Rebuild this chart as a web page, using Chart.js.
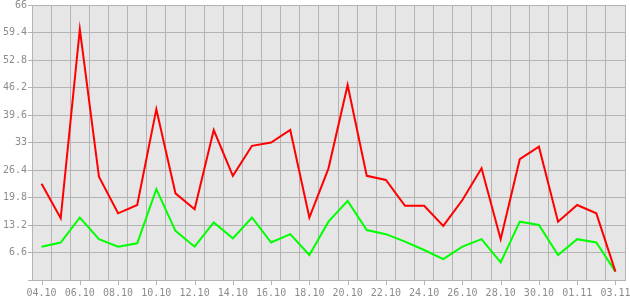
<!DOCTYPE html>
<html>
<head>
<meta charset="utf-8">
<script src="https://cdn.jsdelivr.net/npm/chart.js@4/dist/chart.umd.min.js"></script>
<style>
  body { margin: 0; background: #fff; }
</style>
</head>
<body>
<canvas id="myChart" width="630" height="300"></canvas>
<script>
// dates, one per day
const days = ['04.10', '05.10', '06.10', '07.10', '08.10', '09.10', '10.10', '11.10', '12.10', '13.10',
  '14.10', '15.10', '16.10', '17.10', '18.10', '19.10', '20.10', '21.10', '22.10', '23.10',
  '24.10', '25.10', '26.10', '27.10', '28.10', '29.10', '30.10', '31.10', '01.11', '02.11', '03.11'];

const redValues = [23.1, 14.8, 60.2, 24.8, 16.0, 18.0, 41.0, 20.8, 17.0, 36.0,
  25.0, 32.2, 33.0, 36.0, 15.0, 26.8, 46.8, 25.0, 24.0, 17.8,
  17.8, 13.0, 19.2, 26.8, 9.8, 29.0, 32.0, 14.0, 18.0, 16.0, 2.0];

const greenValues = [8.0, 9.0, 15.0, 9.8, 8.0, 8.8, 21.8, 11.8, 8.0, 13.8,
  10.0, 15.0, 9.0, 11.0, 6.0, 14.0, 19.0, 12.0, 11.0, 9.2,
  7.2, 5.0, 8.0, 9.8, 4.2, 14.0, 13.2, 6.0, 9.8, 9.0, 2.0];

const yTickLabels = ['', '6.6', '13.2', '19.8', '26.4', '33', '39.6', '46.2', '52.8', '59.4', '66'];

const gridColor = '#b4b4b4';
const textColor = '#8c8c8c';
const tickFont = { family: 'DejaVu Sans Mono', size: 10 };

// grey plot background + short tick marks under the labelled dates
const plotDecor = {
  id: 'plotDecor',
  beforeDraw(chart) {
    const a = chart.chartArea;
    const ctx = chart.ctx;
    ctx.save();
    ctx.fillStyle = '#e6e6e6';
    ctx.fillRect(a.left, a.top, a.right - a.left, a.bottom - a.top);
    ctx.restore();
  },
  afterDraw(chart) {
    const x = chart.scales.x;
    const ctx = chart.ctx;
    ctx.save();
    ctx.strokeStyle = gridColor;
    ctx.lineWidth = 1;
    for (let i = 0; i < days.length; i += 2) {
      const px = Math.round(x.getPixelForTick(i)) + 0.5;
      ctx.beginPath();
      ctx.moveTo(px, x.top);
      ctx.lineTo(px, x.top + 5);
      ctx.stroke();
    }
    ctx.restore();
  }
};

const ctx = document.getElementById('myChart').getContext('2d');
new Chart(ctx, {
  type: 'line',
  data: {
    labels: days,
    datasets: [{
      data: redValues,
      borderColor: '#ff0000',
      borderWidth: 2,
      pointRadius: 0,
      tension: 0,
      fill: false
    }, {
      data: greenValues,
      borderColor: '#00ff00',
      borderWidth: 2,
      pointRadius: 0,
      tension: 0,
      fill: false
    }]
  },
  options: {
    responsive: false,
    animation: false,
    layout: { padding: { top: 5, right: 5, left: 0, bottom: 0 } },
    plugins: {
      legend: { display: false },
      tooltip: { enabled: false }
    },
    scales: {
      x: {
        type: 'category',
        offset: true,
        grid: { offset: true, color: gridColor, drawTicks: false },
        border: { color: gridColor },
        ticks: {
          autoSkip: false,
          maxRotation: 0,
          color: textColor,
          font: tickFont,
          padding: 7,
          callback: (v, i) => (i % 2 === 0 ? days[i] : '')
        },
        afterFit(scale) {
          scale.height = 20;
          scale.paddingLeft = 0;
          scale.paddingRight = 0;
        }
      },
      y: {
        min: 0,
        max: 66,
        grid: { color: gridColor, tickLength: 4 },
        border: { color: gridColor },
        ticks: {
          stepSize: 6.6,
          color: textColor,
          font: tickFont,
          padding: 1,
          callback: (v, i) => yTickLabels[i]
        },
        afterFit(scale) {
          scale.width = 32;
          scale.paddingTop = 0;
          scale.paddingBottom = 0;
        }
      }
    }
  },
  plugins: [plotDecor]
});
</script>
</body>
</html>
